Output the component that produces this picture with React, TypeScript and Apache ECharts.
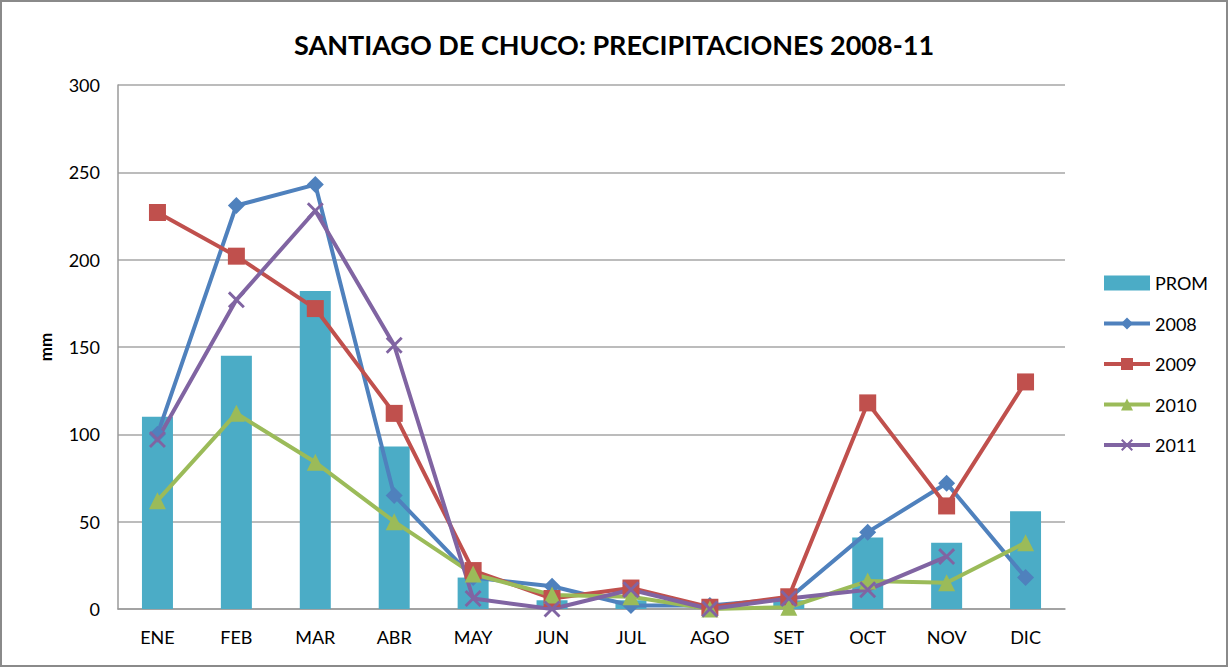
import React, { useEffect, useRef } from "react";
import * as echarts from "echarts";

const months = ["ENE", "FEB", "MAR", "ABR", "MAY", "JUN", "JUL", "AGO", "SET", "OCT", "NOV", "DIC"];
const prom = [110, 145, 182, 93, 18, 5, 5, 1, 5, 41, 38, 56];
const y2008 = [100, 231, 243, 65, 18, 13, 2, 2, 6, 44, 72, 18];
const y2009 = [227, 202, 172, 112, 22, 6, 12, 1, 7, 118, 59, 130];
const y2010 = [62, 112, 84, 50, 20, 8, 7, 0, 1, 16, 15, 38];
const y2011 = [97, 177, 228, 151, 6, 0, 11, 0, 6, 11, 30, null];
const yTicks = [0, 50, 100, 150, 200, 250, 300];

const FONT = "Lato, 'Open Sans', sans-serif";
const xSymbol = "path://M0,1.2 L1.2,0 L10,8.8 L8.8,10 Z M8.8,0 L10,1.2 L1.2,10 L0,8.8 Z";

export default function App() {
  const ref = useRef<HTMLDivElement>(null);
  useEffect(() => {
    document.body.style.margin = "0";
    const chart = echarts.init(ref.current!, null, { renderer: "svg" });
    const lineBase = (name: string, data: any[], color: string, symbol: string, size: number) => ({
      name,
      type: "line",
      data,
      symbol,
      symbolSize: size,
      showSymbol: true,
      lineStyle: { color, width: 4 },
      itemStyle: { color, borderColor: color, borderWidth: 0 },
      z: 3,
    });
    const legendItem = (name: string, color: string) => ({
      name,
      lineStyle: { color, width: 4 },
      itemStyle: { color },
    });
    chart.setOption({
      animation: false,
      backgroundColor: "transparent",
      title: {
        text: "SANTIAGO DE CHUCO: PRECIPITACIONES 2008-11",
        left: "center",
        top: 26,
        textStyle: { fontFamily: FONT, fontWeight: "bold", fontSize: 27, color: "#000" },
      },
      grid: { left: 118, right: 163, top: 85, bottom: 58, containLabel: false },
      legend: {
        orient: "vertical",
        left: 1097,
        top: 269,
        itemWidth: 46,
        itemHeight: 15,
        itemGap: 22.5,
        textStyle: { fontFamily: FONT, fontSize: 18, color: "#000" },
        data: [
          { name: "PROM", icon: "rect" },
          legendItem("2008", "#4F81BD"),
          legendItem("2009", "#C0504D"),
          legendItem("2010", "#9BBB59"),
          legendItem("2011", "#8064A2"),
        ],
      },
      xAxis: {
        type: "category",
        data: months,
        axisLine: { lineStyle: { color: "#9a9a9a", width: 1.5 } },
        axisTick: { show: false },
        axisLabel: { fontFamily: FONT, fontSize: 18, color: "#000", margin: 19 },
      },
      yAxis: {
        type: "value",
        min: yTicks[0],
        max: yTicks[yTicks.length - 1],
        interval: 50,
        name: "mm",
        nameLocation: "middle",
        nameGap: 64,
        nameRotate: 90,
        nameTextStyle: { fontFamily: FONT, fontWeight: "bold", fontSize: 17, color: "#000" },
        axisLine: { show: true, lineStyle: { color: "#9a9a9a", width: 1.5 } },
        axisTick: { show: false },
        axisLabel: { fontFamily: FONT, fontSize: 18, color: "#000", margin: 18 },
        splitLine: { lineStyle: { color: "#a6a6a6", width: 1.5 } },
      },
      series: [
        {
          name: "PROM",
          type: "bar",
          data: prom,
          barWidth: 31,
          itemStyle: { color: "#4BACC6" },
          z: 2,
        },
        lineBase("2008", y2008, "#4F81BD", "diamond", 17),
        lineBase("2009", y2009, "#C0504D", "rect", 17),
        lineBase("2010", y2010, "#9BBB59", "triangle", 17),
        lineBase("2011", y2011, "#8064A2", xSymbol, 17),
      ],
    });
    return () => chart.dispose();
  }, []);
  return (
    <div
      style={{
        position: "absolute",
        left: 0,
        top: 0,
        width: 1228,
        height: 667,
        boxSizing: "border-box",
        border: "2px solid #8a8a8a",
        background: "#fff",
      }}
    >
      <div ref={ref} style={{ position: "absolute", left: -2, top: -2, width: 1228, height: 667 }} />
    </div>
  );
}
